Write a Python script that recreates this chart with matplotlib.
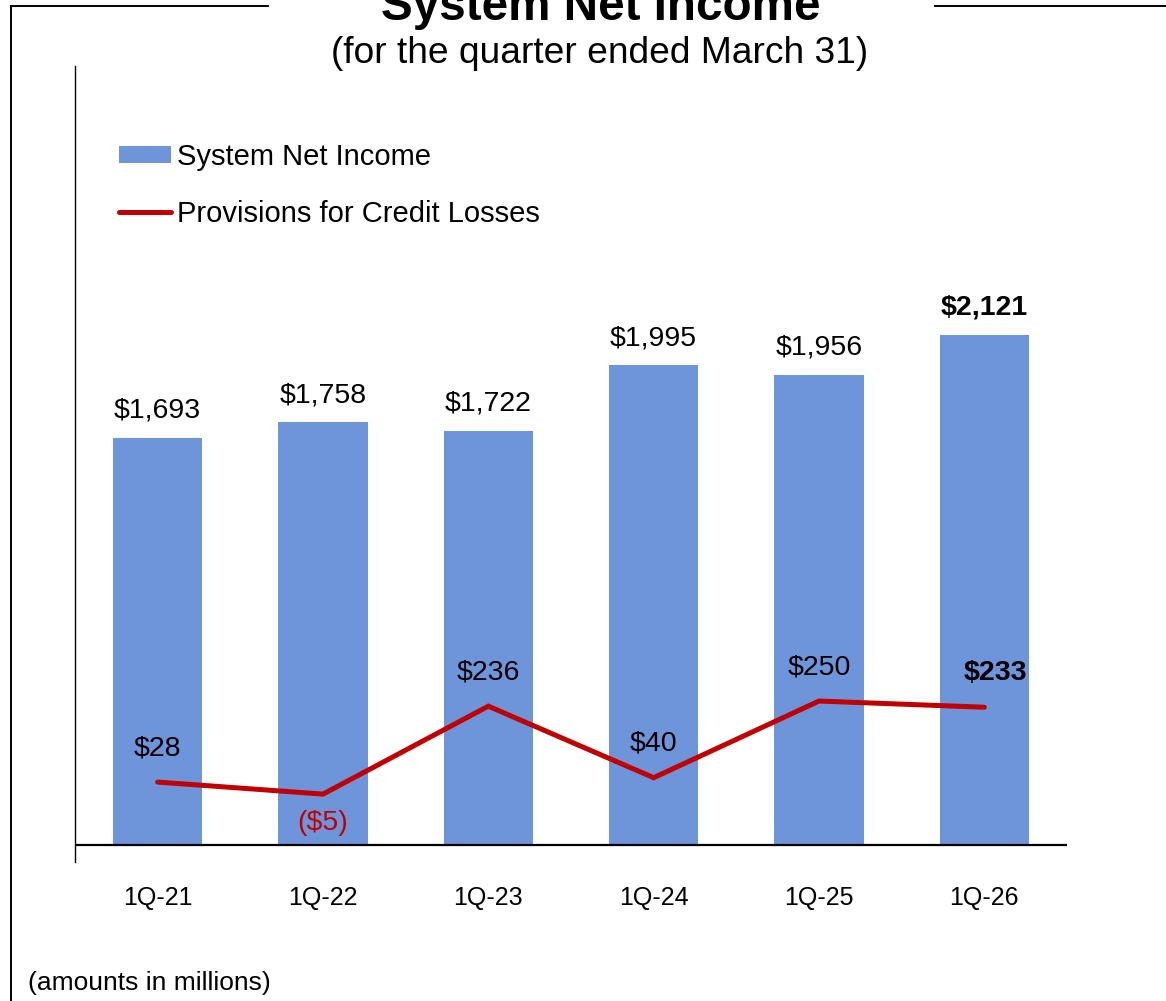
import matplotlib
matplotlib.use("Agg")
import matplotlib.pyplot as plt
from matplotlib.lines import Line2D

plt.rcParams["font.family"] = ["Liberation Sans", "DejaVu Sans"]

quarters = ["1Q-21", "1Q-22", "1Q-23", "1Q-24", "1Q-25", "1Q-26"]
net_income = [1693, 1758, 1722, 1995, 1956, 2121]
provisions = [28, -5, 236, 40, 250, 233]

BAR_COLOR = "#6E94DA"
LINE_COLOR = "#C00000"
W, H = 1166, 1001


def money(v):
    return f"(${abs(v):,})" if v < 0 else f"${v:,}"


fig = plt.figure(figsize=(W / 100, H / 100), dpi=100)
ax = fig.add_axes([75 / W, (H - 862) / H, (1067 - 75) / W, (862 - 66) / H])
ax2 = ax.twinx()

x = list(range(len(quarters)))
bars = ax.bar(x, net_income, width=0.54, color=BAR_COLOR, label="System Net Income", zorder=2)
line, = ax2.plot(x, provisions, color=LINE_COLOR, lw=3.6, solid_capstyle="round",
                 solid_joinstyle="miter", label="Provisions for Credit Losses", zorder=3)

ax.set_xlim(-0.5, 5.5)
ax.set_ylim(-70.7, 3239)
ax2.set_ylim(-191, 1990)
ax.axhline(0, color="black", lw=1.6, zorder=4)

for s in ["top", "right", "bottom"]:
    ax.spines[s].set_visible(False)
    ax2.spines[s].set_visible(False)
ax2.spines["left"].set_visible(False)
ax.spines["left"].set_linewidth(1.0)
ax.set_yticks([])
ax2.set_yticks([])
ax.set_xticks(x)
ax.set_xticklabels(quarters, fontsize=18)
ax.tick_params(axis="x", length=0, pad=17.5)

last = len(quarters) - 1
for i, v in enumerate(net_income):
    ax.annotate(money(v), (i, v), xytext=(0, 19.5), textcoords="offset points",
                ha="center", va="center", fontsize=20.5,
                fontweight="bold" if i == last else "normal")

for i, v in enumerate(provisions):
    dy = -21 if v < 0 else 24.5
    dx = 8 if i == last else 0
    ax2.annotate(money(v), (i, v), xytext=(dx, dy), textcoords="offset points",
                 ha="center", va="center", fontsize=20.5,
                 color=LINE_COLOR if v < 0 else "black",
                 fontweight="bold" if i == last else "normal", zorder=5)

ax.legend(handles=[bars, line], loc="upper left", frameon=False, fontsize=21,
          bbox_to_anchor=(119 / W, 1 - 143 / H), bbox_transform=fig.transFigure,
          borderaxespad=0, borderpad=0, handlelength=1.78, handleheight=0.52,
          handletextpad=0.2, labelspacing=0.99)

fig.text(601 / W, 1 - 20 / H, "System Net Income", ha="center", va="baseline",
         fontsize=34.3, fontweight="bold")
fig.text(600 / W, 1 - 63 / H, "(for the quarter ended March 31)", ha="center",
         va="baseline", fontsize=26.7)
fig.text(28 / W, 1 - 990 / H, "(amounts in millions)", ha="left", va="baseline",
         fontsize=19)

# outer frame around the slide area
for xs, ys in [([11, 11], [6, H]), ([11, 268], [6, 6]), ([935, W], [6, 6])]:
    fig.add_artist(Line2D([v / W for v in xs], [1 - v / H for v in ys],
                          transform=fig.transFigure, color="black", lw=1.4))

fig.savefig("out.png", dpi=100)
